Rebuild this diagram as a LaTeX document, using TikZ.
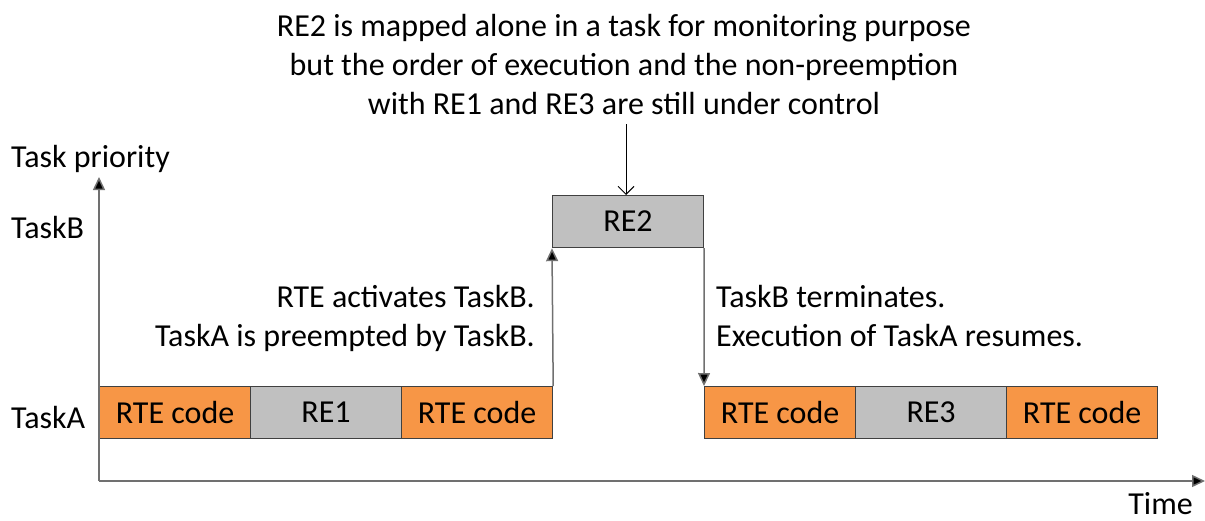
\documentclass[tikz,border=0pt]{standalone}
\usepackage{fontspec}
\setmainfont{Carlito}
\usetikzlibrary{arrows.meta}
\definecolor{rteorange}{HTML}{F79646}
\definecolor{regray}{HTML}{C0C0C0}
\definecolor{edgegray}{HTML}{404040}
\definecolor{linegray}{HTML}{707070}
\tikzset{
  blk/.style={draw=edgegray, line width=1.2pt, minimum height=52pt, inner sep=0pt, font=\fontsize{32}{39}\selectfont, anchor=north west},
  rte/.style={blk, fill=rteorange, minimum width=151pt},
  re/.style={blk, fill=regray, minimum width=151pt},
  arr/.style={draw=linegray, line width=1.5pt, -{Triangle[length=13pt,width=12pt,fill=black]}},
  varr/.style={draw=black, line width=1pt, -{Straight Barb[length=8pt,width=16pt]}},
  lbl/.style={font=\fontsize{32}{39}\selectfont, inner sep=0pt}
}
\begin{document}
\begin{tikzpicture}[x=1pt,y=-1pt]
\useasboundingbox (0,0) rectangle (1205,520);
% boxes
\node[rte] (a1) at (99,386) {RTE code};
\node[re] (r1) at (250,386) {RE1};
\node[rte] (a2) at (401,386) {RTE code};
\node[re] (r2) at (552,195) {RE2};
\node[rte] (a3) at (704,386) {RTE code};
\node[re] (r3) at (855,386) {RE3};
\node[rte] (a4) at (1006,386) {RTE code};
% axes
\coordinate (o) at (99,481);
\coordinate (ytop) at (99,177);
\coordinate (xend) at (1205,481);
\draw[arr] (o) -- (ytop);
\draw[arr] (o) -- (xend);
% transitions
\draw[arr] (a2.north east) -- (r2.south west);
\draw[arr] (r2.south east) -- (a3.north west);
% labels
\node[lbl, anchor=base west] (tp) at (11,167) {Task priority};
\node[lbl, anchor=base west] (tb) at (11,238) {TaskB};
\node[lbl, anchor=base west] (ta) at (11,428) {TaskA};
\node[lbl, anchor=base east, text depth=0pt] (tm) at (1193,514) {Time};
\node[lbl, align=center, anchor=north] (note) at (624,14) {RE2 is mapped alone in a task for monitoring purpose\\but the order of execution and the non-preemption\\with RE1 and RE3 are still under control};
\coordinate (nb) at (626,124);
\draw[varr] (nb) -- (r2.north -| nb);
\node[lbl, align=right, anchor=north east] (act) at (535,285) {RTE activates TaskB.\\TaskA is preempted by TaskB.};
\node[lbl, align=left, anchor=north west] (term) at (716,285) {TaskB terminates.\\Execution of TaskA resumes.};
\end{tikzpicture}
\end{document}
